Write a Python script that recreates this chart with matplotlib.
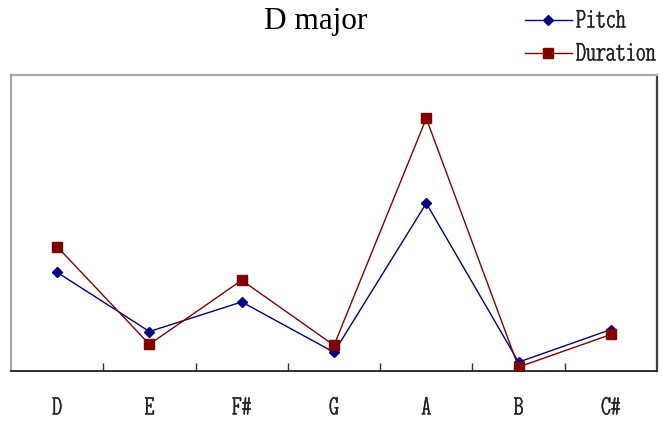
import matplotlib
matplotlib.use("Agg")
import matplotlib.pyplot as plt
import matplotlib.patheffects as pe
from matplotlib.lines import Line2D

notes = ["D", "E", "F#", "G", "A", "B", "C#"]
pitch = [0.100, 0.040, 0.070, 0.019, 0.170, 0.009, 0.042]
duration = [0.126, 0.027, 0.092, 0.026, 0.256, 0.004, 0.037]
series_names = ["Pitch", "Duration"]
title = "D major"

W, H = 663, 421
fig = plt.figure(figsize=(W / 100, H / 100), dpi=100)
ax = fig.add_axes([11 / W, 1 - 371 / H, (657 - 11) / W, (371 - 75) / H])

x = list(range(len(notes)))
navy = "#000080"
maroon = "#800000"
ax.plot(x, pitch, color=navy, lw=1.0, marker="D", ms=5.6,
        mfc=navy, mec=navy, zorder=3)
ax.plot(x, duration, color=maroon, lw=1.0, marker="s", ms=6.8,
        mfc=maroon, mec=maroon, zorder=4)

ax.set_xlim(-0.5, len(notes) - 0.5)
ax.set_ylim(0, 0.3)
ax.set_yticks([])

mono = ["Latin Modern Mono Light Cond", "Liberation Mono"]
thicken = [pe.withStroke(linewidth=0.3, foreground="#222222")]
ax.set_xticks(x)
ax.set_xticklabels(notes, fontfamily=mono, fontsize=20, color="#222222")
for lab in ax.get_xticklabels():
    lab.set_path_effects(thicken)
ax.tick_params(axis="x", which="major", length=0, pad=19)
ax.set_xticks([i + 0.5 for i in range(len(notes) - 1)], minor=True)
ax.tick_params(axis="x", which="minor", direction="in", length=5.5,
               width=1.0, color="#303030")

for side, col, lw in [("left", "#a8a8a8", 1.6), ("top", "#a8a8a8", 1.6),
                      ("right", "#404040", 1.6), ("bottom", "#303030", 1.4)]:
    ax.spines[side].set_color(col)
    ax.spines[side].set_linewidth(lw)

fig.text(316 / W, 1 - 22 / H, title, ha="center", va="center",
         fontfamily="Liberation Serif", fontsize=22.5)

# legend drawn in figure pixels
handles = [(navy, "D", 5.6), (maroon, "s", 6.8)]
for name, (col, mk, ms), ypx in zip(series_names, handles, [20, 53]):
    yf = 1 - ypx / H
    fig.add_artist(Line2D([525 / W, 572 / W], [yf, yf], color=col, lw=1.0,
                          transform=fig.transFigure))
    fig.add_artist(Line2D([548 / W], [yf], color=col, marker=mk, ms=ms,
                          mfc=col, mec=col, transform=fig.transFigure))
    fig.text(576 / W, 1 - (ypx + 2) / H, name, ha="left", va="center",
             color="#222222", fontfamily=mono, fontsize=20.5,
             path_effects=thicken)

fig.savefig("out.png", dpi=100)
